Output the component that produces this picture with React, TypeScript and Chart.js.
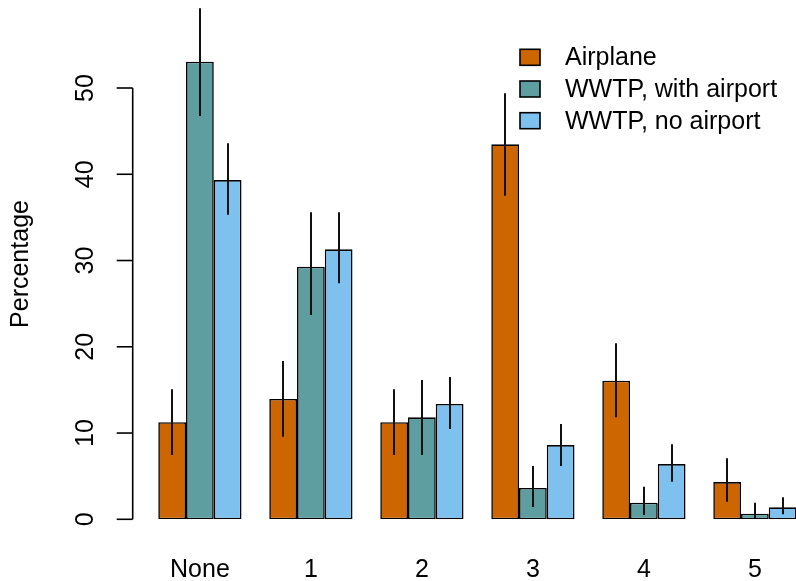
import React, { useEffect, useRef } from "react";
import { Chart, registerables } from "chart.js";

Chart.register(...registerables);

const categories = ["None", "1", "2", "3", "4", "5"];
const seriesNames = ["Airplane", "WWTP, with airport", "WWTP, no airport"];
const seriesColors = ["#CD6600", "#5F9EA0", "#7EC0EE"];

const airplane = [11.25, 13.95, 11.25, 43.47, 16.07, 4.32];
const airplaneLow = [7.45, 9.58, 7.45, 37.5, 11.82, 2.04];
const airplaneHigh = [15.07, 18.35, 15.07, 49.4, 20.4, 7.07];

const wwtpAirport = [53.05, 29.29, 11.82, 3.63, 1.92, 0.65];
const wwtpAirportLow = [46.75, 23.68, 7.45, 1.43, 0.5, 0.1];
const wwtpAirportHigh = [59.24, 35.6, 16.15, 6.18, 3.78, 1.92];

const wwtpNoAirport = [39.33, 31.3, 13.37, 8.6, 6.4, 1.39];
const wwtpNoAirportLow = [35.3, 27.36, 10.47, 6.18, 4.36, 0.58];
const wwtpNoAirportHigh = [43.6, 35.6, 16.5, 11.05, 8.69, 2.55];

const yTicks = [0, 10, 20, 30, 40, 50];
const yTitle = "Percentage";

const values = [airplane, wwtpAirport, wwtpNoAirport];
const lows = [airplaneLow, wwtpAirportLow, wwtpNoAirportLow];
const highs = [airplaneHigh, wwtpAirportHigh, wwtpNoAirportHigh];

const FONT = '25px "Liberation Sans", Arial, sans-serif';

const decorPlugin = {
  id: "rdecor",
  afterDatasetsDraw(chart: any) {
    const ctx = chart.ctx;
    const y = chart.scales.y;
    const x = chart.scales.x;
    ctx.save();
    // error bars
    ctx.strokeStyle = "#111";
    ctx.lineWidth = 2;
    chart.data.datasets.forEach((ds: any, di: number) => {
      const meta = chart.getDatasetMeta(di);
      meta.data.forEach((bar: any, i: number) => {
        ctx.beginPath();
        ctx.moveTo(Math.round(bar.x) + 0.0, y.getPixelForValue(lows[di][i]));
        ctx.lineTo(Math.round(bar.x) + 0.0, y.getPixelForValue(highs[di][i]));
        ctx.stroke();
      });
    });
    // y axis
    const axX = 132.7;
    ctx.strokeStyle = "#000";
    ctx.lineWidth = 1.6;
    ctx.beginPath();
    ctx.moveTo(axX, y.getPixelForValue(yTicks[0]));
    ctx.lineTo(axX, y.getPixelForValue(yTicks[yTicks.length - 1]));
    ctx.stroke();
    ctx.font = FONT;
    ctx.fillStyle = "#000";
    yTicks.forEach((t) => {
      const py = y.getPixelForValue(t);
      ctx.beginPath();
      ctx.moveTo(axX - 16, py);
      ctx.lineTo(axX, py);
      ctx.stroke();
      ctx.save();
      ctx.translate(93.3, py);
      ctx.rotate(-Math.PI / 2);
      ctx.textAlign = "center";
      ctx.textBaseline = "alphabetic";
      ctx.fillText(String(t), 0, 0);
      ctx.restore();
    });
    // y title
    ctx.save();
    ctx.translate(28, 264);
    ctx.rotate(-Math.PI / 2);
    ctx.textAlign = "center";
    ctx.textBaseline = "alphabetic";
    ctx.fillText(yTitle, 0, 0);
    ctx.restore();
    // x labels
    ctx.textAlign = "center";
    ctx.textBaseline = "alphabetic";
    categories.forEach((c, i) => {
      ctx.fillText(c, x.getPixelForValue(i), 576.7);
    });
    // legend
    ctx.textAlign = "left";
    seriesNames.forEach((name, i) => {
      const top = 49.3 + i * 31.7;
      ctx.fillStyle = seriesColors[i];
      ctx.fillRect(520, top, 20, 16);
      ctx.strokeStyle = "#000";
      ctx.lineWidth = 1.6;
      ctx.strokeRect(520, top, 20, 16);
      ctx.fillStyle = "#000";
      ctx.fillText(name, 565, top + 15.8);
    });
    ctx.restore();
  },
};

export default function App() {
  const ref = useRef<HTMLCanvasElement | null>(null);
  useEffect(() => {
    if (!ref.current) return;
    const chart = new Chart(ref.current, {
      type: "bar",
      data: {
        labels: categories,
        datasets: seriesNames.map((n, i) => ({
          label: n,
          data: values[i],
          backgroundColor: seriesColors[i],
          borderColor: "#000",
          borderWidth: 1.6,
          borderSkipped: false,
          categoryPercentage: 0.75,
          barPercentage: 1.0,
        })),
      },
      options: {
        responsive: false,
        animation: false,
        events: [],
        layout: { padding: { left: 144.4, right: 9.6, top: 1.74, bottom: 61.7 } },
        plugins: { legend: { display: false }, tooltip: { enabled: false } },
        scales: {
          x: { display: false, offset: true, grid: { display: false } },
          y: { display: false, min: 0, max: 60 },
        },
      },
      plugins: [decorPlugin],
    });
    return () => chart.destroy();
  }, []);
  return (
    <div
      style={{
        position: "absolute",
        left: 0,
        top: 0,
        width: 796,
        height: 581,
        overflow: "hidden",
        background: "#fff",
      }}
    >
      <canvas ref={ref} width={820} height={581} style={{ display: "block" }} />
    </div>
  );
}
